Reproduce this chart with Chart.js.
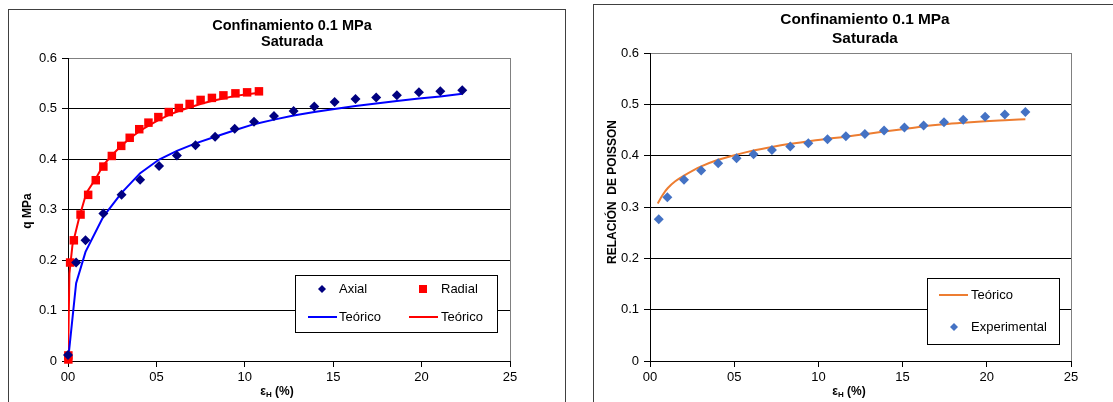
<!DOCTYPE html>
<html>
<head>
<meta charset="utf-8">
<script src="https://cdn.jsdelivr.net/npm/chart.js@4/dist/chart.umd.min.js"></script>
<style>
  body { margin: 0; background: #fff; width: 1113px; height: 402px; overflow: hidden; position: relative; }
  .frame { position: absolute; border: 1px solid #404040; box-sizing: border-box; }
  #f1 { left: 8px; top: 9px; width: 558px; height: 420px; }
  #f2 { left: 593px; top: 4px; width: 540px; height: 420px; }
  canvas { position: absolute; top: 0; }
  #c1 { left: 0; width: 580px; height: 402px; }
  #c2 { left: 580px; width: 533px; height: 402px; }
</style>
</head>
<body>
<div class="frame" id="f1"></div>
<div class="frame" id="f2"></div>
<canvas id="c1" width="580" height="402"></canvas>
<canvas id="c2" width="533" height="402"></canvas>
<script>
/* ========= DATA ========= */
// left chart: q (MPa) vs strain
const axialX = [0, 0.46, 0.99, 2.0, 3.03, 4.08, 5.15, 6.16, 7.21, 8.32, 9.43, 10.52, 11.65, 12.76, 13.93, 15.08, 16.26, 17.43, 18.6, 19.85, 21.06, 22.3];
const axialQ = [0.012, 0.195, 0.239, 0.292, 0.329, 0.359, 0.386, 0.407, 0.427, 0.444, 0.460, 0.474, 0.485, 0.495, 0.504, 0.513, 0.519, 0.522, 0.526, 0.532, 0.534, 0.536];

const radialX = [0.02, 0.02, 0.12, 0.33, 0.71, 1.14, 1.57, 2.0, 2.48, 3.01, 3.49, 4.03, 4.55, 5.11, 5.7, 6.27, 6.88, 7.5, 8.14, 8.79, 9.47, 10.13, 10.8];
const radialQ = [0.003, 0.011, 0.195, 0.239, 0.290, 0.329, 0.358, 0.385, 0.406, 0.426, 0.442, 0.459, 0.472, 0.483, 0.493, 0.501, 0.509, 0.517, 0.521, 0.526, 0.530, 0.532, 0.534];

const teoAxX = [0, 0.46, 0.99, 2.0, 3.03, 4.08, 5.15, 6.16, 7.21, 8.32, 9.43, 10.52, 11.65, 12.76, 13.93, 15.08, 16.26, 17.43, 18.6, 19.85, 21.06, 22.3];
const teoAxQ = [0, 0.154, 0.216, 0.286, 0.333, 0.372, 0.399, 0.416, 0.431, 0.444, 0.457, 0.469, 0.478, 0.486, 0.493, 0.499, 0.505, 0.510, 0.515, 0.520, 0.524, 0.529];

const teoRadX = [0, 0.08, 0.25, 0.62, 1.04, 1.58, 2.0, 2.5, 3.0, 3.51, 4.04, 4.56, 5.11, 5.69, 6.26, 6.87, 7.49, 8.12, 8.78, 9.45, 10.14, 10.82];
const teoRadQ = [0, 0.173, 0.229, 0.282, 0.333, 0.362, 0.388, 0.408, 0.426, 0.441, 0.455, 0.466, 0.477, 0.487, 0.495, 0.502, 0.509, 0.515, 0.520, 0.525, 0.528, 0.531];

// right chart: Poisson ratio vs strain
const expX = [0.52, 1.03, 2.02, 3.04, 4.05, 5.14, 6.15, 7.24, 8.33, 9.4, 10.54, 11.63, 12.76, 13.9, 15.11, 16.25, 17.46, 18.6, 19.9, 21.07, 22.29];
const expV = [0.276, 0.319, 0.353, 0.371, 0.385, 0.395, 0.403, 0.411, 0.418, 0.424, 0.432, 0.438, 0.442, 0.449, 0.455, 0.459, 0.465, 0.470, 0.476, 0.480, 0.485];

const teoPX = [0.46, 0.76, 1.06, 1.5, 2.02, 3.04, 4.05, 5.14, 6.15, 7.24, 8.33, 9.4, 10.54, 11.63, 12.76, 13.9, 15.11, 16.25, 17.46, 18.6, 19.9, 21.07, 22.29];
const teoPV = [0.307, 0.324, 0.337, 0.350, 0.361, 0.379, 0.392, 0.402, 0.410, 0.417, 0.423, 0.428, 0.433, 0.437, 0.442, 0.447, 0.452, 0.457, 0.461, 0.464, 0.467, 0.469, 0.471];

const xTicks = [0, 5, 10, 15, 20, 25];
const titleLines = ['Confinamiento 0.1 MPa', 'Saturada'];

/* ========= HELPERS ========= */
const FONT = "'Liberation Sans', Arial, sans-serif";
const pts = (xs, ys) => xs.map((x, i) => ({ x, y: ys[i] }));
Chart.defaults.font.family = FONT;
Chart.defaults.font.size = 13;
Chart.defaults.color = '#000';

function marker(ctx, style, x, y, r, color) {
  ctx.fillStyle = color;
  ctx.beginPath();
  if (style === 'rectRot') {
    ctx.moveTo(x, y - r); ctx.lineTo(x + r, y); ctx.lineTo(x, y + r); ctx.lineTo(x - r, y);
  } else {
    ctx.rect(x - r, y - r, 2 * r, 2 * r);
  }
  ctx.closePath();
  ctx.fill();
}

// titles, axis titles (with subscript) and the boxed legend
const decor = {
  id: 'decor',
  afterDraw(chart, args, o) {
    const ctx = chart.ctx;
    ctx.save();
    ctx.fillStyle = '#000';
    ctx.textAlign = 'center';
    ctx.textBaseline = 'middle';
    ctx.font = `bold ${o.titleSize}px ${FONT}`;
    titleLines.forEach((t, i) => ctx.fillText(t, o.titleX, o.titleY[i]));

    ctx.save();
    ctx.translate(o.yTitleX, o.yTitleY);
    ctx.rotate(-Math.PI / 2);
    ctx.font = `bold 12px ${FONT}`;
    ctx.fillText(o.yTitle, 0, 0);
    ctx.restore();

    const parts = [['ε', 12, 0], ['H', 8, 3], [' (%)', 12, 0]];
    let w = 0;
    parts.forEach(p => { ctx.font = `bold ${p[1]}px ${FONT}`; w += ctx.measureText(p[0]).width; });
    let x = o.xTitleX - w / 2;
    ctx.textAlign = 'left';
    parts.forEach(p => {
      ctx.font = `bold ${p[1]}px ${FONT}`;
      ctx.fillText(p[0], x, o.xTitleY + p[2]);
      x += ctx.measureText(p[0]).width;
    });

    const b = o.box;
    ctx.fillStyle = '#fff';
    ctx.fillRect(b.x, b.y, b.w, b.h);
    ctx.strokeStyle = '#000';
    ctx.lineWidth = 1;
    ctx.strokeRect(b.x + 0.5, b.y + 0.5, b.w, b.h);
    ctx.font = `13px ${FONT}`;
    o.items.forEach(it => {
      const ds = chart.data.datasets[it.ds];
      if (ds.showLine) {
        ctx.strokeStyle = ds.borderColor;
        ctx.lineWidth = ds.borderWidth;
        ctx.beginPath();
        ctx.moveTo(it.x1, it.y); ctx.lineTo(it.x2, it.y);
        ctx.stroke();
      } else {
        marker(ctx, ds.pointStyle, it.x, it.y, it.r, ds.backgroundColor);
      }
      ctx.fillStyle = '#000';
      ctx.fillText(ds.label, it.tx, it.y);
    });
    ctx.restore();
  }
};

function scales(yMaxGrid) {
  return {
    x: {
      type: 'linear', min: 0, max: 25,
      afterBuildTicks: s => { s.ticks = xTicks.map(v => ({ value: v })); },
      afterFit: s => { s.height = 30; },
      ticks: { padding: 3, maxRotation: 0, callback: v => String(v).padStart(2, '0') },
      grid: {
        color: c => (c.tick && c.tick.value === 25 ? '#808080' : 'rgba(0,0,0,0)'),
        tickColor: '#000', tickLength: 6
      },
      border: { color: '#000' }
    },
    y: {
      min: 0, max: 0.6,
      afterFit: s => { s.width = 60; },
      ticks: { stepSize: 0.1, padding: 5, callback: v => (v === 0 ? '0' : v.toFixed(1)) },
      grid: {
        color: c => (c.tick && c.tick.value > 0.59 ? '#808080' : yMaxGrid),
        tickColor: '#000', tickLength: 6
      },
      border: { color: '#000' }
    }
  };
}

/* ========= LEFT CHART ========= */
new Chart(document.getElementById('c1'), {
  type: 'scatter',
  data: {
    datasets: [
      { label: 'Axial', data: pts(axialX, axialQ), pointStyle: 'rectRot', pointRadius: 5,
        backgroundColor: '#000080', borderColor: '#000080', borderWidth: 0, clip: false },
      { label: 'Radial', data: pts(radialX, radialQ), pointStyle: 'rect', pointRadius: 6,
        backgroundColor: '#FF0000', borderColor: '#FF0000', borderWidth: 0, clip: false },
      { label: 'Teórico', data: pts(teoAxX, teoAxQ), showLine: true, pointRadius: 0,
        borderColor: '#0000FF', borderWidth: 2, tension: 0 },
      { label: 'Teórico', data: pts(teoRadX, teoRadQ), showLine: true, pointRadius: 0,
        borderColor: '#FF0000', borderWidth: 2, tension: 0 }
    ]
  },
  options: {
    responsive: false, animation: false, devicePixelRatio: 1,
    layout: { padding: { left: 8, right: 70, top: 58, bottom: 11 } },
    scales: scales('#000'),
    plugins: {
      legend: { display: false }, tooltip: { enabled: false },
      decor: {
        titleSize: 14.5, titleX: 292, titleY: [26, 42],
        yTitle: 'q MPa', yTitleX: 28, yTitleY: 211,
        xTitleX: 277, xTitleY: 392,
        box: { x: 295, y: 275, w: 202, h: 57 },
        items: [
          { ds: 0, x: 322, y: 289, r: 4, tx: 339 },
          { ds: 1, x: 423, y: 289, r: 4, tx: 441 },
          { ds: 2, x1: 308, x2: 337, y: 317, tx: 339 },
          { ds: 3, x1: 409, x2: 438, y: 317, tx: 441 }
        ]
      }
    }
  },
  plugins: [decor]
});

/* ========= RIGHT CHART ========= */
new Chart(document.getElementById('c2'), {
  type: 'scatter',
  data: {
    datasets: [
      { label: 'Experimental', data: pts(expX, expV), pointStyle: 'rectRot', pointRadius: 5,
        backgroundColor: '#4472C4', borderColor: '#4472C4', borderWidth: 0, clip: false },
      { label: 'Teórico', data: pts(teoPX, teoPV), showLine: true, pointRadius: 0,
        borderColor: '#ED7D31', borderWidth: 2, cubicInterpolationMode: 'monotone' }
    ]
  },
  options: {
    responsive: false, animation: false, devicePixelRatio: 1,
    layout: { padding: { left: 10, right: 42, top: 53, bottom: 11 } },
    scales: scales('#000'),
    plugins: {
      legend: { display: false }, tooltip: { enabled: false },
      decor: {
        titleSize: 15.4, titleX: 285, titleY: [20, 39],
        yTitle: 'RELACIÓN  DE POISSON', yTitleX: 33, yTitleY: 192,
        xTitleX: 269, xTitleY: 392,
        box: { x: 347, y: 278, w: 132, h: 66 },
        items: [
          { ds: 1, x1: 359, x2: 388, y: 295, tx: 391 },
          { ds: 0, x: 374, y: 327, r: 4, tx: 391 }
        ]
      }
    }
  },
  plugins: [decor]
});
</script>
</body>
</html>
